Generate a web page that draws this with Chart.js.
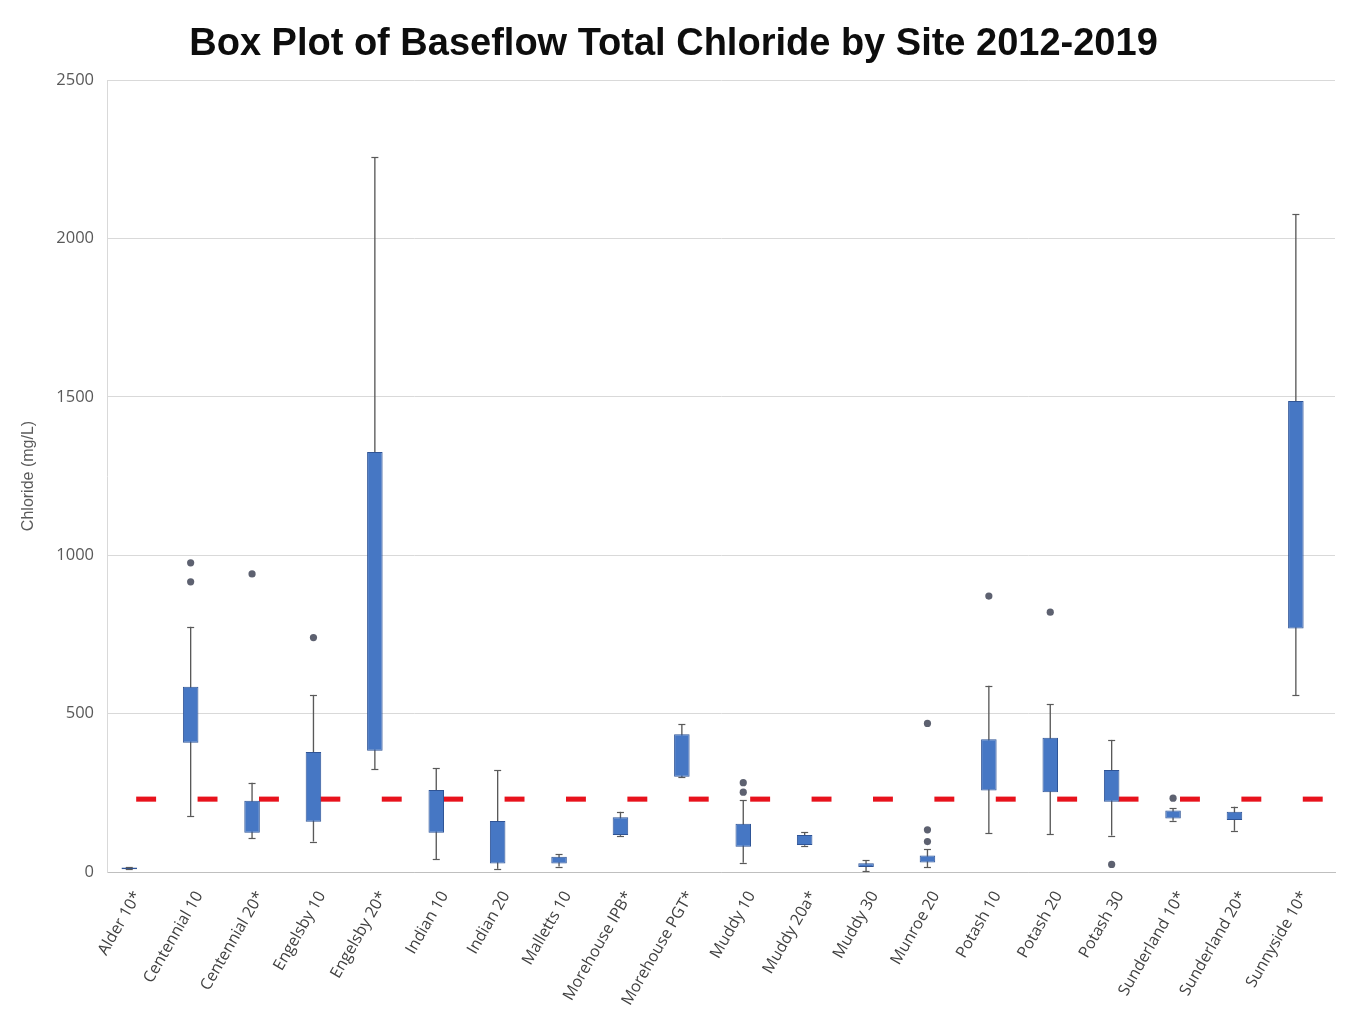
<!DOCTYPE html>
<html>
<head>
<meta charset="utf-8">
<title>Box Plot of Baseflow Total Chloride by Site 2012-2019</title>
<script src="https://cdn.jsdelivr.net/npm/chart.js@4.4.1/dist/chart.umd.min.js"></script>
<style>
  html, body { margin: 0; padding: 0; background: #ffffff; }
  #wrap { width: 1347px; height: 1026px; position: relative; }
</style>
</head>
<body>
<div id="wrap"><canvas id="chart"></canvas></div>
<script>
// Sampling sites (x categories)
const sites = [
  'Alder 10*', 'Centennial 10', 'Centennial 20*', 'Engelsby 10', 'Engelsby 20*',
  'Indian 10', 'Indian 20', 'Malletts 10', 'Morehouse IPB*', 'Morehouse PGT*',
  'Muddy 10', 'Muddy 20a*', 'Muddy 30', 'Munroe 20', 'Potash 10',
  'Potash 20', 'Potash 30', 'Sunderland 10*', 'Sunderland 20*', 'Sunnyside 10*'
];

// Box-and-whisker statistics, chloride in mg/L
const whiskerLow  = [8, 177, 106, 96, 324, 40, 10, 17, 114, 300, 29, 83, 2, 15, 122, 120, 115, 162, 130, 559];
const quartile1   = [9, 408, 124, 159, 383, 124, 27, 27, 117, 301, 80, 85, 16, 30, 257, 252, 222, 169, 164, 769];
const quartile3   = [14, 585, 225, 379, 1326, 259, 161, 48, 173, 435, 152, 117, 28, 52, 419, 424, 322, 194, 190, 1487];
const whiskerHigh = [16, 774, 282, 559, 2257, 327, 322, 56, 190, 467, 227, 125, 38, 72, 588, 530, 417, 201, 206, 2077];

// Individual points beyond the whiskers
const outliers = [
  [], [976, 916], [941], [740], [], [], [], [], [], [],
  [282, 252], [], [], [469, 133, 96], [871], [820], [24], [233], [], []
];

// Chronic chloride criterion drawn beside every site (mg/L)
const criterion = [230, 230, 230, 230, 230, 230, 230, 230, 230, 230,
                   230, 230, 230, 230, 230, 230, 230, 230, 230, 230];

// Value axis ticks
const yTicks = [0, 500, 1000, 1500, 2000, 2500];

const boxColor = '#4677c4';
const boxBorder = '#2f5496';
const whiskerColor = '#595959';
const outlierColor = '#5d6170';
const criterionColor = '#e8121c';
const criterionHalf = 8; // half thickness of the criterion marks, mg/L

const boxData = sites.map((_, i) => [quartile1[i], quartile3[i]]);
const whiskerData = sites.map((_, i) => [whiskerLow[i], whiskerHigh[i]]);
const criterionData = criterion.map(v => [v - criterionHalf, v + criterionHalf]);

// Whisker caps and outlier dots, placed on the whisker bars through the y scale
const boxExtras = {
  id: 'boxExtras',
  afterDatasetsDraw(chart) {
    const ctx = chart.ctx;
    const y = chart.scales.y;
    const meta = chart.getDatasetMeta(1);
    ctx.save();
    meta.data.forEach((el, i) => {
      const x = el.x;
      ctx.strokeStyle = whiskerColor;
      ctx.lineWidth = 1.2;
      [whiskerLow[i], whiskerHigh[i]].forEach(v => {
        const py = Math.round(y.getPixelForValue(v)) + 0.5;
        ctx.beginPath();
        ctx.moveTo(x - 3.5, py);
        ctx.lineTo(x + 3.5, py);
        ctx.stroke();
      });
      ctx.fillStyle = outlierColor;
      outliers[i].forEach(v => {
        ctx.beginPath();
        ctx.arc(x, y.getPixelForValue(v), 3.6, 0, Math.PI * 2);
        ctx.fill();
      });
    });
    ctx.restore();
  }
};

new Chart(document.getElementById('chart'), {
  type: 'bar',
  data: {
    labels: sites,
    datasets: [
      {
        label: 'Interquartile range',
        data: boxData,
        stack: 'box',
        order: 1,
        backgroundColor: boxColor,
        borderColor: boxBorder,
        borderWidth: 1,
        borderSkipped: false,
        categoryPercentage: 0.55,
        barPercentage: 0.92
      },
      {
        label: 'Whiskers',
        data: whiskerData,
        stack: 'box',
        order: 2,
        backgroundColor: whiskerColor,
        borderWidth: 0,
        categoryPercentage: 0.55,
        barPercentage: 0.08
      },
      {
        label: 'Criterion',
        data: criterionData,
        stack: 'criterion',
        order: 3,
        backgroundColor: criterionColor,
        borderWidth: 0,
        categoryPercentage: 0.55,
        barPercentage: 1.18
      }
    ]
  },
  options: {
    responsive: true,
    maintainAspectRatio: false,
    animation: false,
    layout: { padding: { left: 12, right: 12, top: 0, bottom: 4 } },
    plugins: {
      legend: { display: false },
      tooltip: { enabled: false },
      title: {
        display: true,
        text: 'Box Plot of Baseflow Total Chloride by Site 2012-2019',
        color: '#0d0d0d',
        font: { family: 'Liberation Sans, Arial, sans-serif', size: 38, weight: 'bold' },
        padding: { top: 22, bottom: 12.4 }
      }
    },
    scales: {
      x: {
        stacked: true,
        grid: { display: false },
        border: { display: true, color: '#bfbfbf', width: 1 },
        ticks: {
          autoSkip: false,
          minRotation: 60,
          maxRotation: 60,
          padding: 8,
          color: '#404040',
          font: { family: 'Open Sans, sans-serif', size: 16 }
        },
        afterFit(scale) { scale.height = 150; }
      },
      y: {
        stacked: false,
        min: 0,
        max: 2500,
        afterBuildTicks(scale) { scale.ticks = yTicks.map(v => ({ value: v })); },
        grid: { color: '#d9d9d9', drawTicks: false, lineWidth: 1 },
        border: { display: true, color: '#d9d9d9' },
        ticks: {
          padding: 13,
          color: '#595959',
          font: { family: 'Open Sans, sans-serif', size: 16.5 },
          callback: (value) => String(value)
        },
        title: {
          display: true,
          text: 'Chloride (mg/L)',
          color: '#595959',
          font: { family: 'Liberation Sans Narrow, Liberation Sans, sans-serif', size: 16 },
          padding: { top: 7, bottom: 0 }
        },
        afterFit(scale) { scale.width = 95; }
      }
    }
  },
  plugins: [boxExtras]
});
</script>
</body>
</html>
